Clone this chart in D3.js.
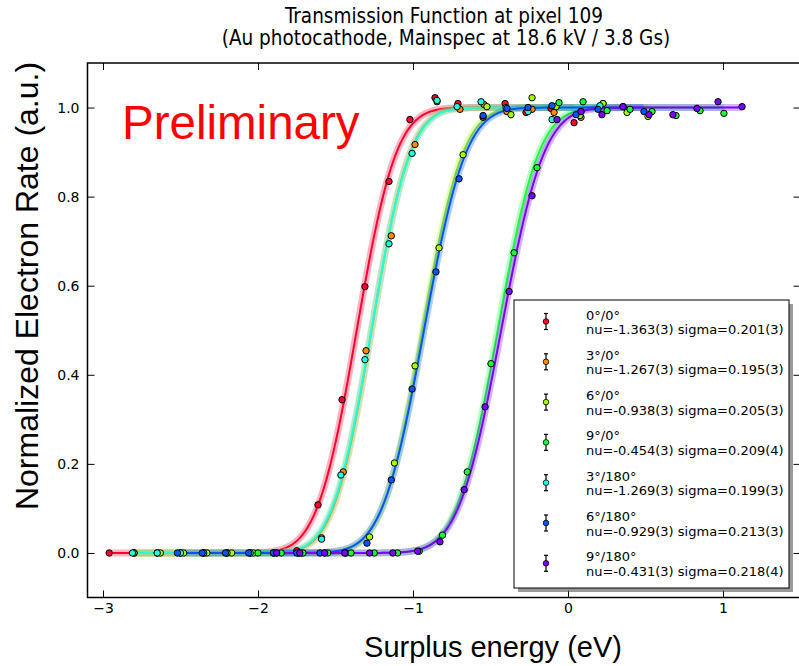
<!DOCTYPE html>
<html><head><meta charset="utf-8">
<script src="https://cdn.jsdelivr.net/npm/d3@7"></script>
<style>html,body{margin:0;padding:0;background:#fff;} svg{display:block;}</style>
</head><body>
<svg id="chart" width="799" height="666"></svg>
<script>
// ---- Data ----
const labels = ["0°/0°","3°/0°","6°/0°","9°/0°","3°/180°","6°/180°","9°/180°"];
const fitText = ["nu=-1.363(3) sigma=0.201(3)","nu=-1.267(3) sigma=0.195(3)","nu=-0.938(3) sigma=0.205(3)",
  "nu=-0.454(3) sigma=0.209(4)","nu=-1.269(3) sigma=0.199(3)","nu=-0.929(3) sigma=0.213(3)","nu=-0.431(3) sigma=0.218(4)"];
const nu = [-1.363,-1.267,-0.938,-0.454,-1.269,-0.929,-0.431];
const sigma = [0.201,0.195,0.205,0.209,0.199,0.213,0.218];
const colors = ["#ff0030","#ff8c00","#aaff00","#1aff3a","#22ffdd","#0055ff","#7a00ff"];

const x0 = [-2.96,-2.80,-2.65,-2.50,-2.35,-2.20,-2.05,-1.90,-1.75,-1.613,-1.458,-1.31,-1.155,-1.02,-0.858,-0.71,-0.548,-0.406,-0.271,-0.11,0.039];
const y0 = [0.0,0.0,0.0,0.0,0.0,0.0,0.0,0.0,0.005,0.108,0.344,0.598,0.834,0.973,1.022,1.009,0.978,1.009,0.989,0.998,0.966];
const x1 = [-2.80,-2.65,-2.50,-2.35,-2.20,-2.05,-1.90,-1.74,-1.59,-1.45,-1.303,-1.14,-0.987,-0.845,-0.697,-0.542,-0.394,-0.232,-0.09,0.084,0.226];
const y1 = [0.0,0.0,0.0,0.0,0.0,0.0,0.0,0.0,0.034,0.182,0.454,0.712,0.917,1.013,0.996,1.007,0.991,0.996,0.989,0.978,1.009];
const x2 = [-2.80,-2.63,-2.48,-2.33,-2.17,-2.03,-1.88,-1.72,-1.57,-1.43,-1.28,-1.12,-0.987,-0.832,-0.677,-0.523,-0.368,-0.232,-0.077,0.077,0.226,0.381,0.516];
const y2 = [0.0,0.0,0.0,0.0,0.0,0.0,0.0,0.0,0.0,0.0,0.036,0.202,0.42,0.685,0.894,1.002,0.984,1.022,1.002,0.982,1.009,0.989,0.98];
const x3 = [-2.0,-1.85,-1.71,-1.55,-1.40,-1.25,-1.10,-0.96,-0.81,-0.65,-0.497,-0.348,-0.2,-0.058,0.097,0.252,0.40,0.542,0.697,0.852,1.006];
const y3 = [0.0,0.0,0.0,0.0,0.0,0.0,0.0,0.004,0.04,0.182,0.425,0.674,0.865,1.011,1.013,0.993,0.996,0.991,0.982,0.993,0.987];
const x4 = [-2.81,-2.65,-2.50,-2.35,-2.20,-2.05,-1.90,-1.74,-1.59,-1.465,-1.31,-1.155,-1.006,-0.845,-0.716,-0.561,-0.40,-0.258,-0.103,0.084,0.206];
const y4 = [0.0,0.0,0.0,0.0,0.0,0.0,0.0,0.0,0.031,0.175,0.434,0.694,0.897,1.016,1.002,1.013,1.0,0.991,0.973,0.991,1.004];
const x5 = [-2.52,-2.36,-2.21,-2.06,-1.90,-1.75,-1.60,-1.44,-1.297,-1.14,-1.006,-0.852,-0.703,-0.548,-0.394,-0.258,-0.103,0.052,0.194,0.355,0.49];
const y5 = [0.0,0.0,0.0,0.0,0.0,0.0,0.0,0.0,0.022,0.164,0.368,0.631,0.84,0.982,0.998,1.0,1.004,0.984,0.996,1.002,0.991];
const x6 = [-1.88,-1.73,-1.57,-1.44,-1.28,-1.13,-0.97,-0.826,-0.67,-0.535,-0.38,-0.232,-0.071,0.084,0.219,0.355,0.523,0.677,0.832,0.968,1.123];
const y6 = [0.0,0.0,0.0,0.0,0.0,0.0,0.004,0.025,0.142,0.328,0.587,0.802,0.973,0.991,0.984,1.002,0.984,0.984,0.998,1.013,1.002];

const xTicks = [-3,-2,-1,0,1];
const yTicks = [0.0,0.2,0.4,0.6,0.8,1.0];

const xsAll = [x0,x1,x2,x3,x4,x5,x6];
const ysAll = [y0,y1,y2,y3,y4,y5,y6];

// ---- Layout ----
const svg = d3.select("#chart");
const L = 87.5, R = 800.5, T = 63, B = 597.5;
const x = d3.scaleLinear().domain([-3.1, 1.5]).range([L, R]);
const y = d3.scaleLinear().domain([-0.1, 1.1]).range([B, T]);

function erf(v){
  const s = v < 0 ? -1 : 1; v = Math.abs(v);
  const t = 1/(1+0.3275911*v);
  const p = t*(0.254829592+t*(-0.284496736+t*(1.421413741+t*(-1.453152027+t*1.061405429))));
  return s*(1 - p*Math.exp(-v*v));
}
const model = (xv, i) => 0.5*(1 + erf((xv - nu[i])/(Math.SQRT2*sigma[i])));

svg.append("defs").append("clipPath").attr("id","clip")
  .append("rect").attr("x",L).attr("y",T).attr("width",R-L).attr("height",B-T);
const plot = svg.append("g").attr("clip-path","url(#clip)");

// curves
const line = d3.line().x(d=>x(d[0])).y(d=>y(d[1]));
xsAll.forEach((xs,i)=>{
  const lo = d3.min(xs), hi = d3.max(xs);
  const pts = d3.range(lo, hi, 0.005).concat([hi]).map(v=>[v, model(v,i)]);
  plot.append("path").attr("d",line(pts)).attr("fill","none")
    .attr("stroke",colors[i]).attr("stroke-opacity",0.3).attr("stroke-width",7);
  plot.append("path").attr("d",line(pts)).attr("fill","none")
    .attr("stroke",colors[i]).attr("stroke-width",2);
});

// points
xsAll.forEach((xs,i)=>{
  const ys = ysAll[i];
  const g = plot.append("g");
  g.selectAll("circle").data(xs.map((v,k)=>[v,ys[k]])).join("circle")
    .attr("cx",d=>x(d[0])).attr("cy",d=>y(d[1])).attr("r",3.2)
    .attr("fill",colors[i]).attr("stroke","#000").attr("stroke-width",1);
});

// "Preliminary"
svg.append("text").attr("x",122).attr("y",139).attr("fill","#ff0000")
  .attr("font-family","Liberation Sans, Arial, sans-serif").attr("font-size",47.5).text("Preliminary");

// axes (inward ticks)
const tickFont = "DejaVu Sans, sans-serif";
const fmtX = d => d < 0 ? "\u2212" + Math.abs(d) : String(d);
const ax = svg.append("g").attr("transform",`translate(0,${B})`)
  .call(d3.axisBottom(x).tickValues(xTicks).tickSize(-7).tickPadding(6).tickFormat(fmtX));
const axT = svg.append("g").attr("transform",`translate(0,${T})`)
  .call(d3.axisTop(x).tickValues(xTicks).tickSize(-7).tickFormat(""));
const ay = svg.append("g").attr("transform",`translate(${L},0)`)
  .call(d3.axisLeft(y).tickValues(yTicks).tickSize(-7).tickPadding(8).tickFormat(d3.format(".1f")));
const ayR = svg.append("g").attr("transform",`translate(${R},0)`)
  .call(d3.axisRight(y).tickValues(yTicks).tickSize(-7).tickFormat(""));
[ax,axT,ay,ayR].forEach(g=>{
  g.select(".domain").remove();
  g.selectAll(".tick line").attr("stroke","#000").attr("stroke-width",1);
  g.selectAll("text").attr("font-family",tickFont).attr("font-size",14).attr("fill","#000");
});

// frame
svg.append("rect").attr("x",L).attr("y",T).attr("width",R-L).attr("height",B-T)
  .attr("fill","none").attr("stroke","#000").attr("stroke-width",1.5);

// title (two separate lines)
const titleFont = "DejaVu Sans Condensed, DejaVu Sans, sans-serif";
svg.append("text").attr("text-anchor","middle").attr("font-family",titleFont).attr("font-stretch","condensed")
  .attr("font-size",20.5).attr("x",444).attr("y",23).text("Transmission Function at pixel 109");
svg.append("text").attr("text-anchor","middle").attr("font-family",titleFont).attr("font-stretch","condensed")
  .attr("font-size",20.5).attr("x",446).attr("y",45).text("(Au photocathode, Mainspec at 18.6 kV / 3.8 Gs)");

// axis labels
svg.append("text").attr("x",493).attr("y",657).attr("text-anchor","middle")
  .attr("font-family","Liberation Sans, Arial, sans-serif").attr("font-size",29).text("Surplus energy (eV)");
svg.append("text").attr("transform","translate(38,286) rotate(-90)").attr("text-anchor","middle")
  .attr("font-family","Liberation Sans, Arial, sans-serif").attr("font-size",32).text("Normalized Electron Rate (a.u.)");

// legend
const lgX = 514, lgY = 300, lgW = 275, lgH = 288;
svg.append("rect").attr("x",lgX+4).attr("y",lgY+4).attr("width",lgW).attr("height",lgH).attr("fill","#555").attr("opacity",0.6);
svg.append("rect").attr("x",lgX).attr("y",lgY).attr("width",lgW).attr("height",lgH)
  .attr("fill","#fff").attr("stroke","#000").attr("stroke-width",1);
labels.forEach((lab,i)=>{
  const cy = 321.5 + i*40.3, mx = 546;
  const g = svg.append("g");
  g.append("line").attr("x1",mx).attr("x2",mx).attr("y1",cy-8).attr("y2",cy+8).attr("stroke","#000").attr("stroke-width",1.2);
  g.append("line").attr("x1",mx-2).attr("x2",mx+2).attr("y1",cy-8).attr("y2",cy-8).attr("stroke","#000").attr("stroke-width",1.2);
  g.append("line").attr("x1",mx-2).attr("x2",mx+2).attr("y1",cy+8).attr("y2",cy+8).attr("stroke","#000").attr("stroke-width",1.2);
  g.append("circle").attr("cx",mx).attr("cy",cy).attr("r",2.8).attr("fill",colors[i]).attr("stroke","#000").attr("stroke-width",0.8);
  g.append("text").attr("x",586).attr("y",cy-2).attr("font-family",tickFont).attr("font-size",13).text(lab);
  g.append("text").attr("x",586).attr("y",cy+12.5).attr("font-family",tickFont).attr("font-size",13).text(fitText[i]);
});
</script>
</body></html>
